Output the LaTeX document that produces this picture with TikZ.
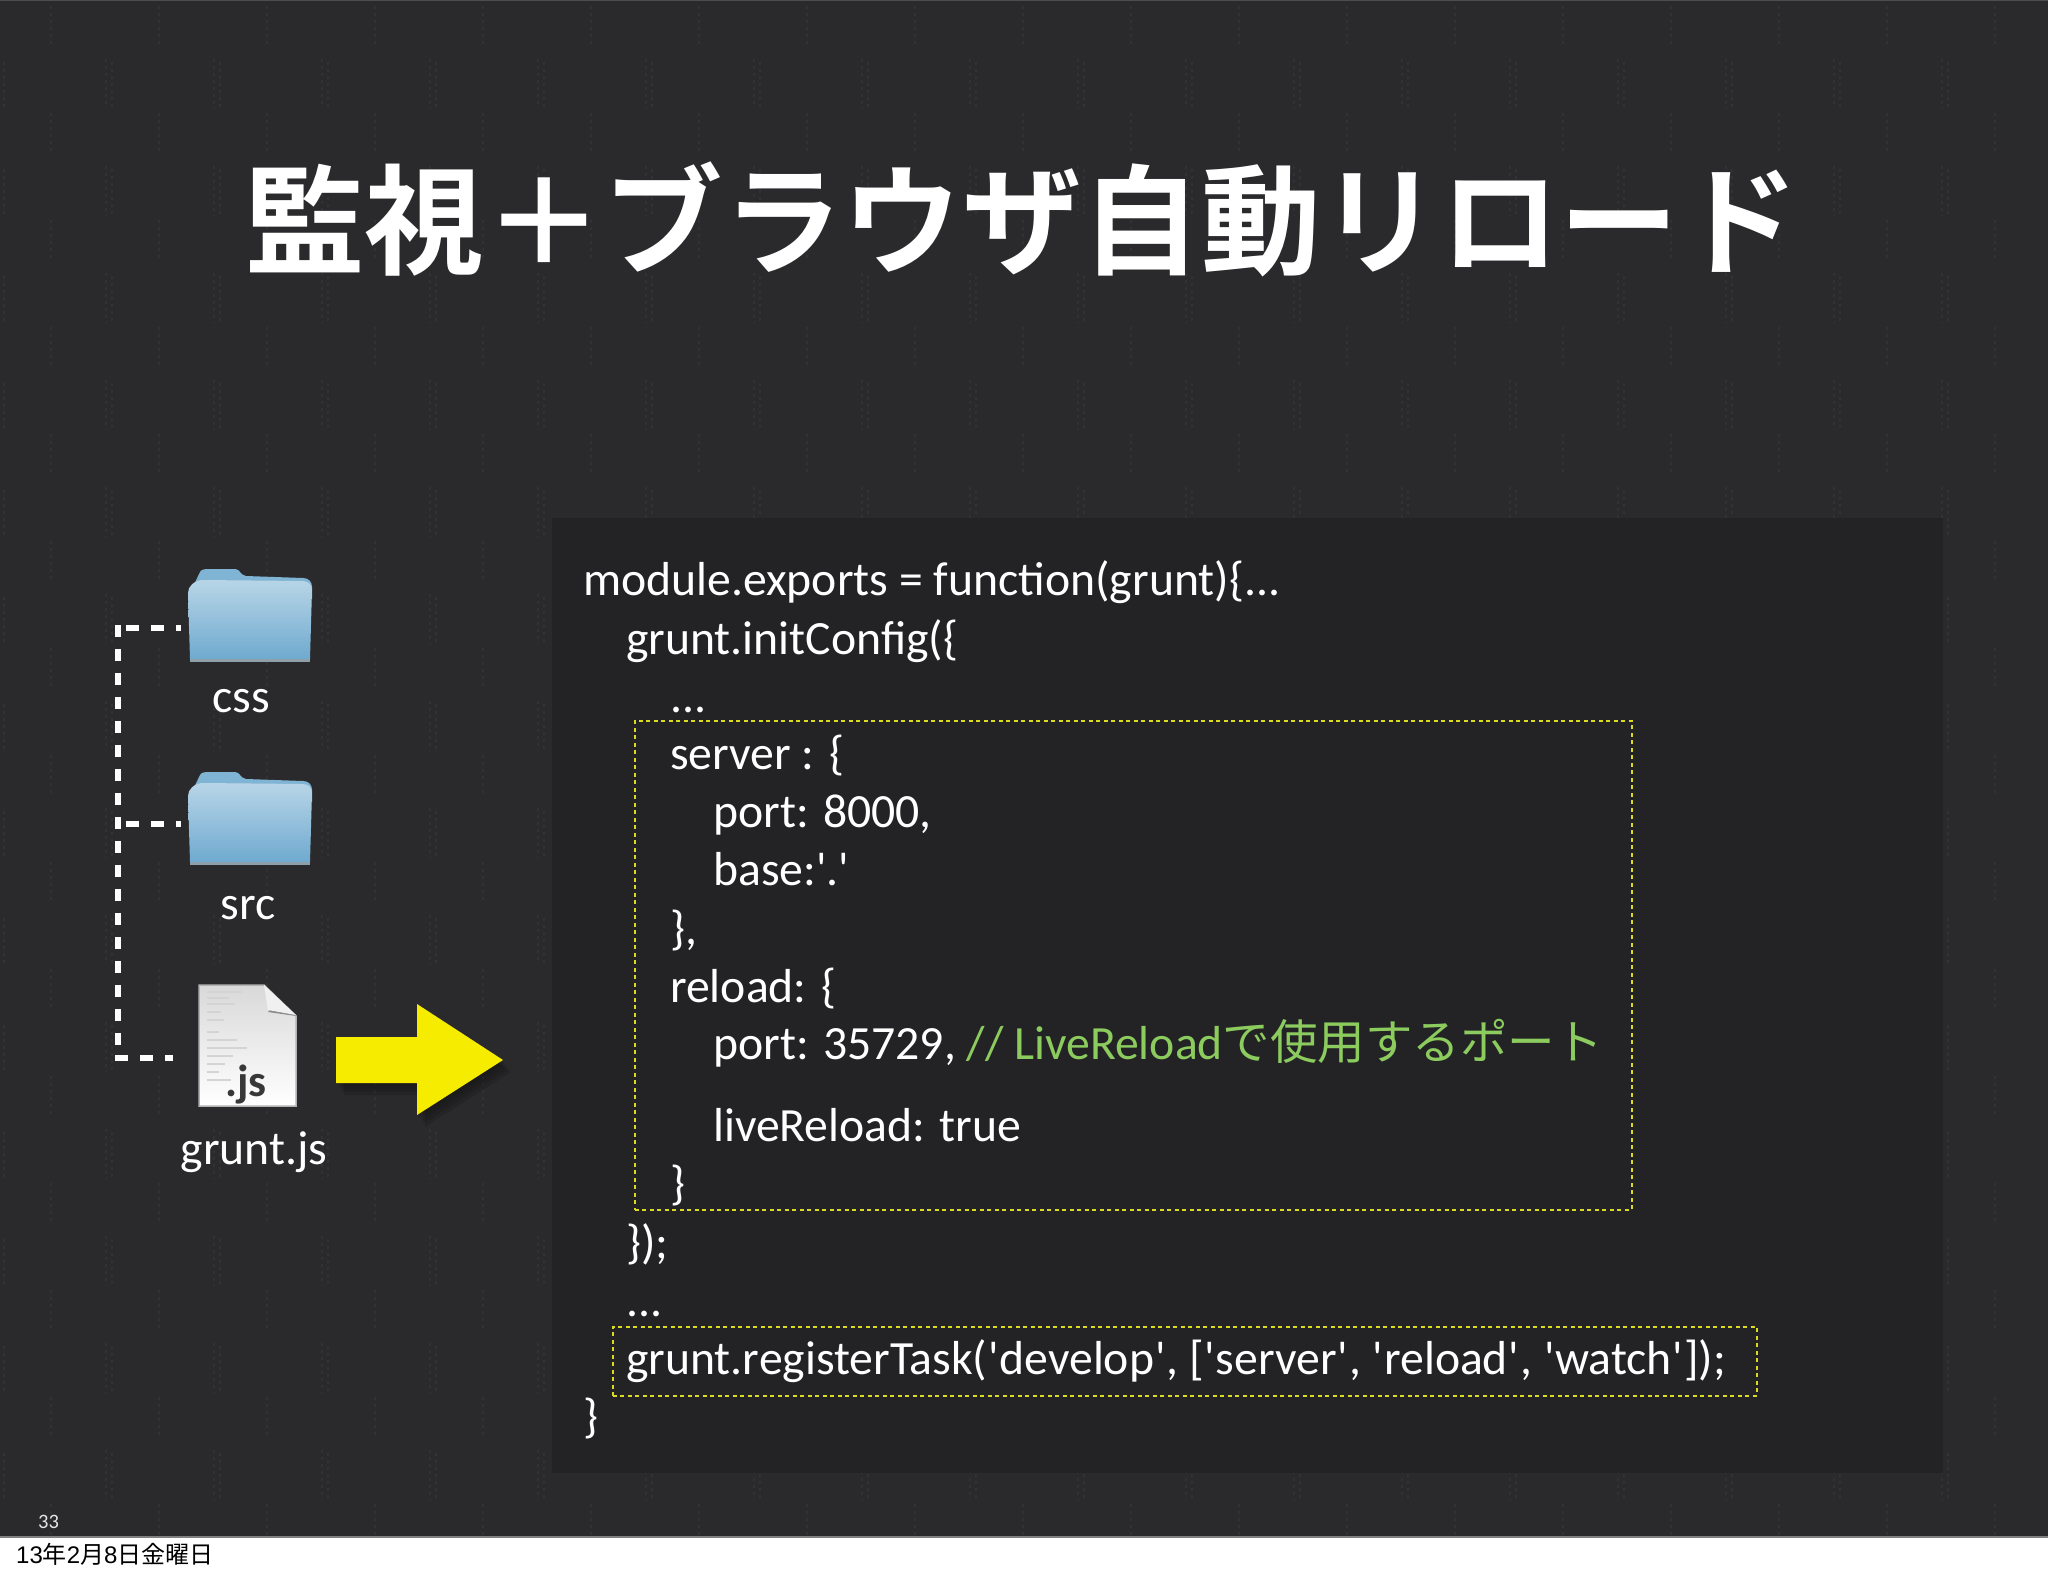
\documentclass[tikz,border=0pt]{standalone}
\usepackage{fontspec}
\setmainfont{Carlito}
\newfontfamily\codef{Carlito}
\newfontfamily\cjk{Noto Sans CJK JP}
\newfontfamily\cjkb{Noto Sans CJK JP Bold}
\newfontfamily\arialf{Liberation Sans}
\definecolor{slidebg}{HTML}{2A2A2C}
\definecolor{streak}{HTML}{323234}
\definecolor{panelbg}{HTML}{232325}
\definecolor{boxy}{HTML}{DADA20}
\definecolor{codegreen}{HTML}{8CCB5E}
\definecolor{arrowy}{HTML}{F5EC00}
\definecolor{foldt}{HTML}{B8D5E7}
\definecolor{foldb}{HTML}{6FAACF}
\definecolor{foldback}{HTML}{7FB4D4}
\definecolor{foldlip}{HTML}{8E9FAA}
\newcommand{\codesize}{\fontsize{47.7}{58}\selectfont}
\newcommand{\qmark}{\kern1pt'\kern.75pt}
\tikzset{
  x=1pt,y=-1pt,
  code/.style={anchor=base west,inner sep=0pt,text=white,font=\codef\codesize},
  lbl/.style={anchor=base,inner sep=0pt,text=white,font=\codef\codesize},
  dashv/.style={draw=white,line width=6pt,dash pattern=on 12pt off 12pt},
  dashh/.style={draw=white,line width=6pt,dash pattern=on 12.5pt off 12.5pt},
  dotbox/.style={draw=boxy,line width=1.8pt,dash pattern=on 4pt off 3.5pt,fill=none,inner sep=0pt},
  folderpath/.style={top color=foldt,bottom color=foldb,draw=none},
  streakline/.style={draw=streak,line width=2pt,dash pattern=on 3pt off 4pt}
}
\newcommand{\folder}[2]{%
  \fill[foldback] (#1+2,#2+24) -- (#1+12,#2+3) .. controls (#1+14,#2+0) and (#1+17,#2+0) .. (#1+20,#2+0)
    -- (#1+47,#2+0) .. controls (#1+52,#2+0) and (#1+52,#2+6) .. (#1+58,#2+7) -- (#1+115,#2+9) .. controls (#1+121,#2+9) and (#1+124,#2+13) .. (#1+124,#2+18) -- (#1+124,#2+30) -- (#1,#2+30) -- cycle;
  \shade[folderpath] (#1,#2+24) .. controls (#1,#2+17) and (#1+6,#2+12) .. (#1+14,#2+11)
    -- (#1+114,#2+12) .. controls (#1+120,#2+12) and (#1+124,#2+15) .. (#1+124,#2+21)
    -- (#1+122,#2+90) -- (#1+2,#2+90) -- cycle;
  \fill[foldlip] (#1+2,#2+90) rectangle (#1+122,#2+93);
}
\begin{document}
\begin{tikzpicture}
\useasboundingbox (0,0) rectangle (2048,1576);
\fill[white] (0,0) rectangle (2048,1576);
\fill[slidebg] (0,0) rectangle (2048,1537);
\begin{scope}
\clip (0,0) rectangle (2048,1537);
\foreach \k in {0,...,19}{
  \foreach \j in {0,...,14}{
    \pgfmathsetmacro{\ax}{-2+108*\k}
    \pgfmathsetmacro{\ay}{59+107*\j}
    \pgfmathsetmacro{\bx}{51+108*\k}
    \pgfmathsetmacro{\by}{6+107*\j}
    \draw[streakline] (\ax,\ay) -- (\ax,\ay+50);
    \draw[streakline] (\ax+6,\ay+3) -- (\ax+6,\ay+50);
    \draw[streakline] (\bx,\by) -- (\bx,\by+40);
  }
}
\end{scope}
\draw[black!70,line width=1pt] (0,0.5) -- (2048,0.5);
\draw[black!50,line width=1.5pt] (0,1537) -- (2048,1537);
\node[fill=panelbg,draw=none,inner sep=0pt,minimum width=1391pt,minimum height=955pt,anchor=north west] (panel) at (552,518) {};
\node[anchor=center,inner sep=0pt,text=white,font=\cjkb\fontsize{119.5}{130}\selectfont] (title) at (1022,219) {監視＋ブラウザ自動リロード};
% code
\node[code] (l1) at (583,595) {module.exports = function(grunt)\{...};
\node[code] (l2) at (626,654) {grunt.initConfig(\{};
\node[code] (l3) at (670,712) {...};
\node[code] (l4) at (670,769) {server : \{};
\node[code] (l5) at (713,827) {port: 8000,};
\node[code] (l6) at (713,885) {base:'.'};
\node[code] (l7) at (670,944) {\},};
\node[code] (l8) at (670,1002) {reload: \{};
\node[code] (l9) at (713,1059) {port: 35729, \textcolor{codegreen}{// LiveReload{\cjk\fontsize{47.5}{50}\selectfont で使用するポート}}};
\node[code] (l10) at (713,1141) {liveReload: true};
\node[code] (l11) at (670,1199) {\}};
\node[code] (l12) at (626,1258) {\});};
\node[code] (l13) at (626,1316) {...};
\node[code] (l14) at (626,1374) {grunt.registerTask(\qmark develop\qmark, [\qmark server\qmark, \qmark reload\qmark, \qmark watch\qmark]);};
\node[code] (l15) at (583,1432) {\}};
\node[dotbox,minimum width=997pt,minimum height=489pt,anchor=north west] (box1) at (634,720) {};
\node[dotbox,minimum width=1144pt,minimum height=69pt,anchor=north west] (box2) at (612,1326) {};
% folders
\folder{188}{569}
\folder{188}{772}
\node[inner sep=0pt,minimum width=124pt,minimum height=93pt,anchor=north west] (css) at (188,569) {};
\node[inner sep=0pt,minimum width=124pt,minimum height=93pt,anchor=north west] (src) at (188,772) {};
\node[lbl] (csslbl) at (241,712) {css};
\node[lbl] (srclbl) at (248,919) {src};
% doc icon
\shade[top color=white!85!black,bottom color=white,draw=black!30,line width=1.5pt] (199,985) -- (264,985) -- (296,1016) -- (296,1106) -- (199,1106) -- cycle;
\fill[black!45] (268,1012) -- (296,1016) -- (276,1003) -- cycle;
\fill[white!94!black] (264,985) -- (268,1010) -- (296,1015) -- cycle;
\foreach \yy/\ww in {992/35,998/22,1004/28,1012/14,1020/17,1032/12,1040/30,1048/40,1056/26,1064/18,1072/12,1080/24}
  \draw[black!17,line width=1.2pt] (207,\yy) -- ++(\ww,0);
\node[anchor=base,inner sep=0pt,text=black!78,font=\codef\bfseries\fontsize{45}{45}\selectfont] (jsicon) at (246,1096) {.js};
\node[inner sep=0pt,minimum width=98pt,minimum height=123pt,anchor=north west] (doc) at (198,984) {};
\node[lbl] (gruntlbl) at (254,1164) {grunt.js};
% dashed tree
\coordinate (top) at (118,625);
\coordinate (mid) at (118,824);
\coordinate (bot) at (118,1050);
\coordinate (h1) at (126,628);
\coordinate (h2) at (126,824);
\coordinate (h3) at (115,1058);
\coordinate (e1) at (181,628);
\coordinate (e2) at (181,824);
\coordinate (e3) at (173,1058);
\draw[dashv] (top) -- (bot);
\draw[dashh] (h1) -- (e1);
\draw[dashh] (h2) -- (e2);
\draw[dashh] (h3) -- (e3);
% arrow
\foreach \i/\o in {1/.08,2/.08,3/.1,4/.12}
  \fill[black,opacity=\o] (336+2*\i,1037+3*\i) -- (417+2*\i,1037+3*\i) -- (417+2*\i,1004+3*\i) -- (503+2*\i,1060+3*\i) -- (417+2*\i,1115+3*\i) -- (417+2*\i,1083+3*\i) -- (336+2*\i,1083+3*\i) -- cycle;
\fill[arrowy] (336,1037) -- (417,1037) -- (417,1004) -- (503,1060) -- (417,1115) -- (417,1083) -- (336,1083) -- cycle;
% footer
\node[anchor=base west,inner sep=0pt,text=white!90!black,font=\fontsize{20.5}{22}\selectfont] (num) at (38,1528) {33};
\node[anchor=base west,inner sep=0pt,text=black,font=\arialf\fontsize{24}{26}\selectfont] (date) at (16,1563) {13{\cjk 年}2{\cjk 月}8{\cjk 日金曜日}};
\end{tikzpicture}
\end{document}
